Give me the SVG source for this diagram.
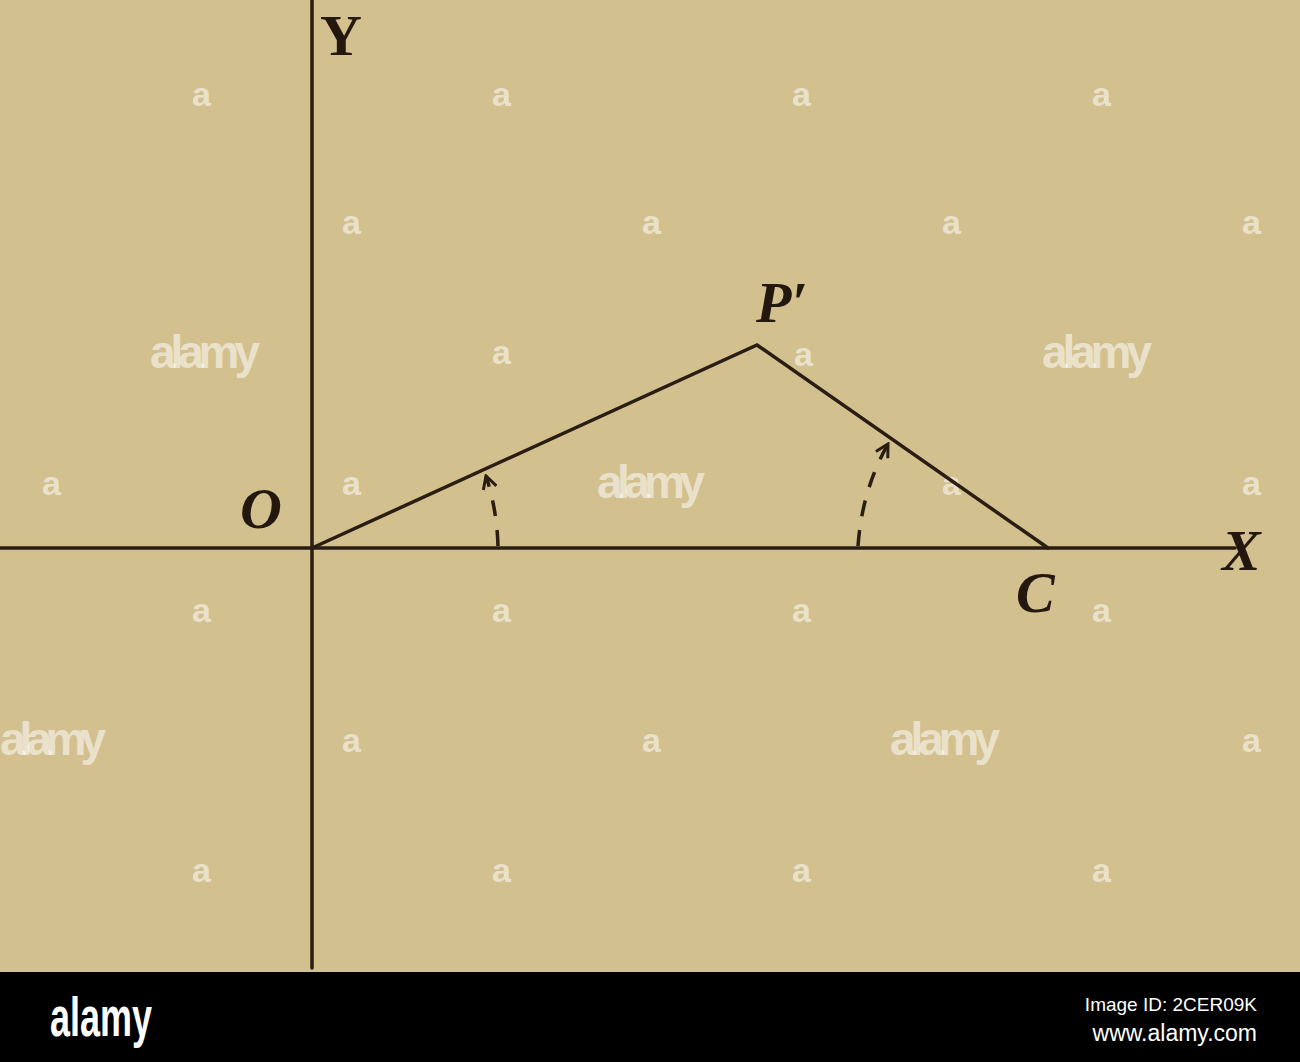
<svg xmlns="http://www.w3.org/2000/svg" width="1300" height="1062" viewBox="0 0 1300 1062">
<style>
.ln{stroke:#2a1d12;stroke-width:3.5;fill:none;stroke-linecap:round}
.dash{stroke:#2a1d12;stroke-width:3.5;fill:none;stroke-dasharray:16 14}
.lbl{font-family:"Liberation Serif",serif;font-size:58px;fill:#24180e;font-style:italic;font-weight:bold}
.wm{font-family:"Liberation Sans Narrow","Liberation Sans",sans-serif;font-weight:bold;fill:#ffffff;fill-opacity:0.55}
.wa{font-size:34px}
.wl{font-size:46px}
.ft{font-family:"Liberation Sans Narrow","Liberation Sans",sans-serif;fill:#fff}
</style>
<defs>
<marker id="ah" viewBox="0 0 14 14" refX="12" refY="7" markerWidth="16" markerHeight="16" orient="auto" markerUnits="userSpaceOnUse">
<path d="M1,1 L12,7 L1,13" fill="none" stroke="#2a1d12" stroke-width="2.6" stroke-linejoin="miter"/>
</marker>
</defs>
<rect width="1300" height="1062" fill="#d3c08f"/>
<g id="watermarks">
<text class="wm wa" x="192" y="106">a</text><text class="wm wa" x="492" y="106">a</text><text class="wm wa" x="792" y="106">a</text><text class="wm wa" x="1092" y="106">a</text>
<text class="wm wa" x="342" y="234">a</text><text class="wm wa" x="642" y="234">a</text><text class="wm wa" x="942" y="234">a</text><text class="wm wa" x="1242" y="234">a</text>
<text class="wm wl" x="150" y="368" textLength="110">alamy</text><text class="wm wa" x="492" y="364">a</text><text class="wm wa" x="794" y="366">a</text><text class="wm wl" x="1042" y="368" textLength="110">alamy</text>
<text class="wm wa" x="42" y="495">a</text><text class="wm wa" x="342" y="495">a</text><text class="wm wl" x="597" y="498" textLength="108">alamy</text><text class="wm wa" x="942" y="495">a</text><text class="wm wa" x="1242" y="495">a</text>
<text class="wm wa" x="192" y="622">a</text><text class="wm wa" x="492" y="622">a</text><text class="wm wa" x="792" y="622">a</text><text class="wm wa" x="1092" y="622">a</text>
<text class="wm wl" x="0" y="755" textLength="106">alamy</text><text class="wm wa" x="342" y="752">a</text><text class="wm wa" x="642" y="752">a</text><text class="wm wl" x="890" y="755" textLength="110">alamy</text><text class="wm wa" x="1242" y="752">a</text>
<text class="wm wa" x="192" y="882">a</text><text class="wm wa" x="492" y="882">a</text><text class="wm wa" x="792" y="882">a</text><text class="wm wa" x="1092" y="882">a</text>
</g>
<g id="connectors">
<line class="ln" x1="312" y1="0" x2="312" y2="968"/>
<line class="ln" x1="0" y1="548" x2="1235" y2="548"/>
<polyline class="ln" points="312,548 757,345 1048,548"/>
<path class="dash" d="M498,546 Q497,510 486,476" marker-end="url(#ah)"/>
<path class="dash" d="M858,546 Q862,490 888,444" marker-end="url(#ah)"/>
</g>
<g id="node-Y"><text class="lbl" x="320" y="55" font-size="62" style="font-style:normal">Y</text></g>
<g id="node-O"><text class="lbl" x="240" y="528">O</text></g>
<g id="node-P"><text class="lbl" x="756" y="322">P′</text></g>
<g id="node-C"><text class="lbl" x="1016" y="612">C</text></g>
<g id="node-X"><text class="lbl" x="1222" y="570">X</text></g>
<g id="footer">
<rect x="0" y="972" width="1300" height="90" fill="#000"/>
<text class="ft" x="50" y="1036" font-weight="bold" font-size="56" textLength="102" lengthAdjust="spacingAndGlyphs">alamy</text>
<text class="ft" x="1257" y="1011" text-anchor="end" font-size="19">Image ID: 2CER09K</text>
<text class="ft" x="1257" y="1041" text-anchor="end" font-size="23">www.alamy.com</text>
</g>
</svg>
